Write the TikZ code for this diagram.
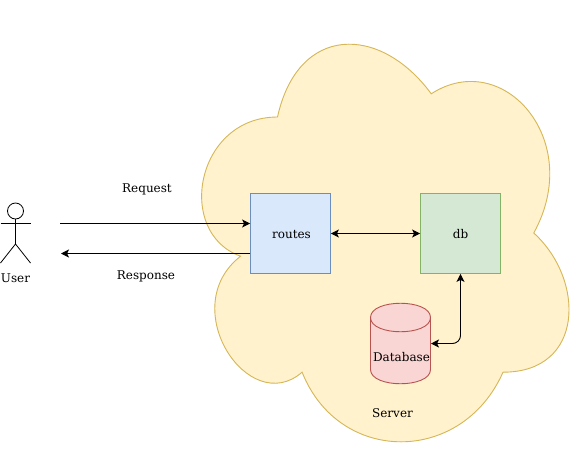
\documentclass[tikz,border=0pt]{standalone}
\usepackage{fontspec}
\setmainfont{DejaVu Serif}
\usetikzlibrary{arrows.meta}
\definecolor{cloudfill}{HTML}{FFF2CC}
\definecolor{clouddraw}{HTML}{D6B656}
\definecolor{routesfill}{HTML}{DAE8FC}
\definecolor{routesdraw}{HTML}{6C8EBF}
\definecolor{dbfill}{HTML}{D5E8D4}
\definecolor{dbdraw}{HTML}{82B366}
\definecolor{storefill}{HTML}{F9D5D3}
\definecolor{storedraw}{HTML}{B85450}
\tikzset{
  box/.style={draw,minimum width=80pt,minimum height=80pt,inner sep=0pt,line width=0.9pt},
  label/.style={font=\fontsize{12}{14}\selectfont,inner sep=0pt},
  link/.style={-{Stealth[length=8pt,width=8pt,inset=2pt]},line width=0.9pt},
  twolink/.style={{Stealth[length=8pt,width=8pt,inset=2pt]}-{Stealth[length=8pt,width=8pt,inset=2pt]},line width=0.9pt}
}
\begin{document}
\begin{tikzpicture}[x=1pt,y=-1pt]
\useasboundingbox (0,0) rectangle (586,466);
% cloud
\draw[draw=clouddraw,fill=cloudfill,line width=0.9pt] (277.5,117)
  .. controls (195.5,117) and (175,233) .. (240.6,256.2)
  .. controls (175,307.2) and (248.8,418.6) .. (302.1,372.2)
  .. controls (339,465) and (462,465) .. (503,372.2)
  .. controls (585,372.2) and (585,279.4) .. (533.75,233)
  .. controls (585,140.2) and (503,47.4) .. (431.25,93.8)
  .. controls (380,24.2) and (298,24.2) .. (277.5,117) -- cycle;
% user
\draw[line width=0.8pt] (15.5,211) circle (8);
\draw[line width=0.8pt] (15.5,219) -- (15.5,244);
\draw[line width=0.8pt] (0.5,223.5) -- (30.5,223.5);
\draw[line width=0.8pt] (0.5,263) -- (15.5,244) -- (30.5,263);
\node[label] (user) at (15.5,278.5) {User};
% boxes
\node[box,draw=routesdraw,fill=routesfill] (routes) at (290.5,233.5) {};
\node[label] at (291.5,234.5) {routes};
\node[box,draw=dbdraw,fill=dbfill] (db) at (460.5,233.5) {};
\node[label] at (460.5,234.5) {db};
% database
\draw[draw=storedraw,fill=storefill,line width=0.9pt] (370.5,317.5)
  .. controls (370.5,298.5) and (430.5,298.5) .. (430.5,317.5)
  -- (430.5,369.5)
  .. controls (430.5,388.5) and (370.5,388.5) .. (370.5,369.5) -- cycle;
\draw[draw=storedraw,line width=0.9pt] (370.5,317.5)
  .. controls (370.5,336.5) and (430.5,336.5) .. (430.5,317.5);
\node[label] (storetext) at (401.5,357) {Database};
\node[label] (server) at (392.5,413.5) {Server};
\node[label] (request) at (147,189) {Request};
\node[label] (response) at (146,276) {Response};
% links
\coordinate (reqstart) at (60,223.5);
\coordinate (resend) at (61,253.5);
\coordinate (storeport) at (431,343.5);
\draw[link] (reqstart) -- (reqstart -| routes.west);
\draw[link] (resend -| routes.west) -- (resend);
\draw[twolink] (routes.east) -- (db.west);
\draw[twolink,rounded corners=8pt] (db.south) -- (db.south |- storeport) -- (storeport);
\end{tikzpicture}
\end{document}
